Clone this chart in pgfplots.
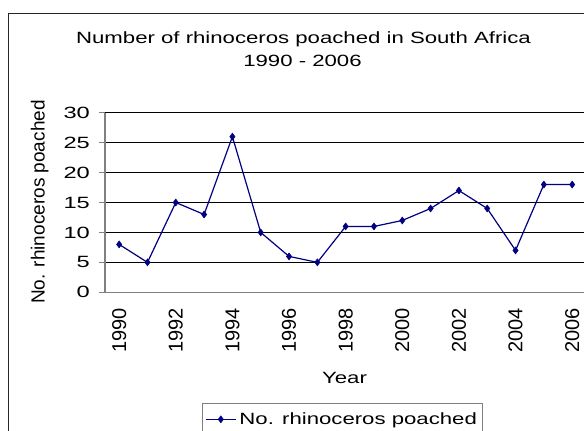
\documentclass[border=0pt]{standalone}
\usepackage{fontspec}
\setmainfont{Liberation Sans}
\newfontfamily\hfont{Liberation Sans}[FakeStretch=1.36]
\newfontfamily\ytfont{Liberation Sans}[FakeStretch=1.45]
\usepackage{pgfplots}
\pgfplotsset{compat=1.18}
\definecolor{navyline}{RGB}{0,0,128}
\definecolor{axgray}{RGB}{128,128,128}
\begin{document}
\begin{tikzpicture}[x=1bp,y=1bp]
\useasboundingbox (0,0) rectangle (584,430);
\draw[line width=1bp, black!85] (8.3,-20) -- (8.3,416.7) -- (620,416.7);
\node[anchor=base, inner sep=0pt, font={\hfont\fontsize{16.3bp}{19bp}\selectfont}] at (303.5,386.7) {Number of rhinoceros poached in South Africa};
\node[anchor=base, inner sep=0pt, font={\hfont\fontsize{16.3bp}{19bp}\selectfont}] at (302.5,363.3) {1990 - 2006};
\node[anchor=base, inner sep=0pt, font={\hfont\fontsize{16.3bp}{19bp}\selectfont}] at (344.5,46.2) {Year};
\node[anchor=base, rotate=90, inner sep=0pt, font={\fontsize{19bp}{22bp}\selectfont}] at (44.5,228) {No. rhinoceros poached};
\begin{axis}[
  at={(105bp,137.7bp)}, anchor=south west,
  scale only axis, width=481.3bp, height=179.6bp,
  xmin=1989.5, xmax=2006.5, ymin=0, ymax=30,
  axis x line*=bottom, axis y line*=left,
  axis line style={axgray, line width=1.2bp},
  tick align=outside, major tick length=6bp,
  tick style={axgray, line width=1bp},
  ytick={0,5,...,30},
  yticklabels={0,5,10,15,20,25,30},
  yticklabel style={font={\ytfont\fontsize{16.3bp}{19bp}\selectfont}, anchor=east, inner sep=0pt, inner xsep=9bp},
  ymajorgrids, grid style={black, line width=0.8bp},
  xtick={1990,1992,...,2006},
  xticklabels={1990,1992,1994,1996,1998,2000,2002,2004,2006},
  xtick style={draw=none},
  xticklabel style={rotate=90, anchor=east, inner sep=0pt, inner xsep=10bp, font={\fontsize{20bp}{24bp}\selectfont}},
  extra x ticks={1989.5,1990.5,1991.5,1992.5,1993.5,1994.5,1995.5,1996.5,1997.5,1998.5,1999.5,2000.5,2001.5,2002.5,2003.5,2004.5,2005.5,2006.5},
  extra x tick style={xticklabel={}, grid=none, tick style={axgray, line width=1bp, draw=axgray}, major tick length=5bp},
  legend style={at={(0.201,-0.615)}, anchor=north west, draw=axgray, line width=1bp,
    font={\hfont\fontsize{16.3bp}{19bp}\selectfont}, inner xsep=3bp, inner ysep=9.4bp,
    nodes={inner xsep=3bp, inner ysep=0bp}},
  legend cell align=left,
  legend image code/.code={\draw[#1, mark repeat=2, mark phase=2] plot coordinates {(0bp,0bp) (15bp,0bp) (30bp,0bp)};},
]
\addplot[color=navyline, line width=1.2bp, mark=diamond*, mark size=3.5bp, mark options={fill=navyline, line width=0.5bp}] coordinates {
(1990,8) (1991,5) (1992,15) (1993,13) (1994,26) (1995,10) (1996,6) (1997,5) (1998,11)
(1999,11) (2000,12) (2001,14) (2002,17) (2003,14) (2004,7) (2005,18) (2006,18)
};
\addlegendentry{No. rhinoceros poached}
\end{axis}
\end{tikzpicture}
\end{document}
